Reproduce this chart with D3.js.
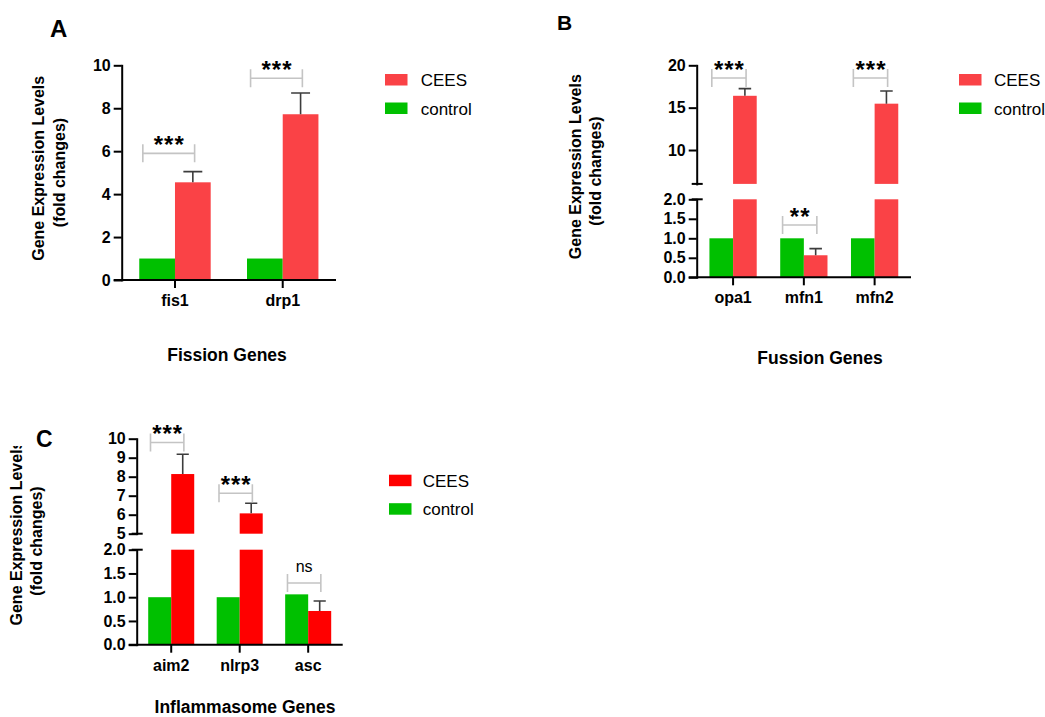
<!DOCTYPE html>
<html>
<head>
<meta charset="utf-8">
<script src="https://cdn.jsdelivr.net/npm/d3@7"></script>
<style>
  html, body { margin: 0; padding: 0; background: #fff; }
  svg { display: block; font-family: "Liberation Sans", Arial, sans-serif; }
</style>
</head>
<body>
<script>
// ---------------- DATA ----------------
const groups = ["control", "CEES"];

// Panel A – fission genes
const fissionGenes = ["fis1", "drp1"];
const fissionControl = [1.0, 1.0];
const fissionControlErr = [0, 0];
const fissionCEES = [4.55, 7.72];
const fissionCEESErr = [0.5, 0.99];
const fissionSig = ["***", "***"];
const fissionSigLevel = [5.9, 9.4];
const fissionTicks = [0, 2, 4, 6, 8, 10];

// Panel B – fusion genes
const fusionGenes = ["opa1", "mfn1", "mfn2"];
const fusionControl = [1.0, 1.0, 1.0];
const fusionControlErr = [0, 0, 0];
const fusionCEES = [16.4, 0.565, 15.47];
const fusionCEESErr = [0.85, 0.17, 1.5];
const fusionSig = ["***", "**", "***"];
const fusionSigLevel = [18.5, 1.34, 18.5];
const fusionTicksLow = [0, 0.5, 1.0, 1.5, 2.0];
const fusionTicksHigh = [10, 15, 20];
const fusionDomainLow = [0, 2];
const fusionDomainHigh = [6, 20];

// Panel C – inflammasome genes
const inflGenes = ["aim2", "nlrp3", "asc"];
const inflControl = [1.0, 1.0, 1.06];
const inflControlErr = [0, 0, 0];
const inflCEES = [8.14, 6.07, 0.71];
const inflCEESErr = [1.04, 0.53, 0.21];
const inflSig = ["***", "***", "ns"];
const inflSigLevel = [9.8, 7.13, 1.3];
const inflTicksLow = [0, 0.5, 1.0, 1.5, 2.0];
const inflTicksHigh = [5, 6, 7, 8, 9, 10];
const inflDomainLow = [0, 2];
const inflDomainHigh = [5, 10];

// ---------------- DRAW ----------------
const FONT = '"Liberation Sans", Arial, sans-serif';
const GREEN = "#00C000";
const svg = d3.select("body").append("svg").attr("width", 1045).attr("height", 717);

const defs = svg.append("defs");
defs.append("clipPath").attr("id", "clipC")
  .append("rect").attr("x", 0).attr("y", 446).attr("width", 70).attr("height", 271);

function drawPanel(p) {
  const g = svg.append("g");
  const x = d3.scaleBand().domain(p.genes).range([p.x0, p.x1])
    .paddingInner(p.pi).paddingOuter(p.po);
  const sub = d3.scaleBand().domain(groups).range([0, x.bandwidth()]);
  const segs = p.segments.map(s => Object.assign({}, s, {
    scale: d3.scaleLinear().domain(s.domain).range(s.range)
  }));
  const segFor = v => segs.find(s => v >= s.domain[0] && v <= s.domain[1]) || segs[segs.length - 1];
  const color = d3.scaleOrdinal().domain(groups).range([GREEN, p.red]);

  const rows = p.genes.flatMap((gene, i) => [
    { gene, grp: "control", v: p.control[i], e: p.controlErr[i] },
    { gene, grp: "CEES", v: p.cees[i], e: p.ceesErr[i] }
  ]);

  // bars (split across axis segments)
  const pieces = [];
  rows.forEach(r => segs.forEach(s => {
    if (r.v > s.domain[0]) pieces.push({ r, s, top: Math.min(r.v, s.domain[1]) });
  }));
  g.selectAll("rect.bar").data(pieces).join("rect").attr("class", "bar")
    .attr("x", d => x(d.r.gene) + sub(d.r.grp))
    .attr("width", sub.bandwidth())
    .attr("y", d => d.s.scale(d.top))
    .attr("height", d => d.s.scale(d.s.domain[0]) - d.s.scale(d.top))
    .attr("fill", d => color(d.r.grp));

  // error bars (upper half)
  const errs = rows.filter(r => r.e > 0);
  const capW = sub.bandwidth() * 0.53;
  g.selectAll("path.err").data(errs).join("path").attr("class", "err")
    .attr("d", r => {
      const s = segFor(r.v);
      const cx = x(r.gene) + sub(r.grp) + sub.bandwidth() / 2;
      const y0 = s.scale(r.v), y1 = s.scale(r.v + r.e);
      return `M${cx},${y0}V${y1}M${cx - capW / 2},${y1}H${cx + capW / 2}`;
    })
    .attr("fill", "none").attr("stroke", "#3c3c3c").attr("stroke-width", 1.6);

  // significance brackets
  const b = sub.bandwidth();
  p.genes.forEach((gene, i) => {
    const s = segFor(p.sigLevel[i]);
    const yb = s.scale(p.sigLevel[i]);
    const c = x(gene) + x.bandwidth() / 2;
    const l = c - 0.9 * b, rr = c + 0.55 * b;
    g.append("path")
      .attr("d", `M${l},${yb - 9}V${yb + 9}M${l},${yb}H${rr}M${rr},${yb - 9}V${yb + 9}`)
      .attr("fill", "none").attr("stroke", "#c4c4c4").attr("stroke-width", 1.6);
    const isNs = p.sig[i] === "ns";
    g.append("text")
      .attr("x", (l + rr) / 2 + (isNs ? 0 : 0.5))
      .attr("y", isNs ? yb - 10.5 : yb - 0.5)
      .attr("text-anchor", "middle")
      .attr("font-family", FONT)
      .attr("font-size", isNs ? 16 : 24)
      .attr("font-weight", isNs ? "normal" : "bold")
      .attr("letter-spacing", isNs ? 0 : 1)
      .attr("fill", "#000")
      .text(p.sig[i]);
  });

  // y axes
  segs.forEach(s => {
    const ax = g.append("g").attr("transform", `translate(${p.x0},0)`)
      .call(d3.axisLeft(s.scale).tickValues(s.ticks).tickSize(8).tickSizeOuter(0)
        .tickPadding(3).tickFormat(d3.format(s.fmt)));
    ax.select(".domain").attr("stroke", "#000").attr("stroke-width", 2).attr("stroke-linecap", "square");
    ax.selectAll(".tick line").attr("stroke", "#000").attr("stroke-width", 2);
    ax.selectAll(".tick text").attr("font-family", FONT).attr("font-size", 16)
      .attr("font-weight", "bold").attr("fill", "#000");
  });
  // break caps
  if (segs.length > 1) {
    const ends = [segs[0].range[1], segs[1].range[0]];
    ends.forEach(yv => g.append("line")
      .attr("x1", p.x0 - 5).attr("x2", p.x0 + 6).attr("y1", yv).attr("y2", yv)
      .attr("stroke", "#000").attr("stroke-width", 2));
  }

  // x axis
  const yBase = segs[0].range[0];
  g.append("line").attr("x1", p.x0 - 8).attr("x2", p.x1).attr("y1", yBase).attr("y2", yBase)
    .attr("stroke", "#000").attr("stroke-width", 2);
  const xa = g.append("g").attr("transform", `translate(0,${yBase})`)
    .call(d3.axisBottom(x).tickSize(8).tickSizeOuter(0).tickPadding(6.5));
  xa.select(".domain").remove();
  xa.selectAll(".tick line").attr("stroke", "#000").attr("stroke-width", 2);
  xa.selectAll(".tick text").attr("font-family", FONT).attr("font-size", 16)
    .attr("font-weight", "bold").attr("fill", "#000");

  // legend (CEES first)
  ["CEES", "control"].forEach((k, i) => {
    const yy = p.legY + i * 28.5;
    g.append("rect").attr("x", p.legX).attr("y", yy).attr("width", 22.5).attr("height", 11.5)
      .attr("fill", color(k));
    g.append("text").attr("x", p.legTextX).attr("y", yy + 12)
      .attr("font-family", FONT).attr("font-size", 17).attr("fill", "#000").text(k);
  });

  // panel label
  g.append("text").attr("x", p.labX).attr("y", p.labY)
    .attr("font-family", FONT).attr("font-size", p.labSize).attr("font-weight", "bold")
    .text(p.label);

  // y title
  const holder = p.clip ? g.append("g").attr("clip-path", `url(#${p.clip})`) : g;
  holder.append("text")
    .attr("transform", `translate(${p.t1x},${p.t1y}) rotate(-90)`)
    .attr("text-anchor", "middle").attr("dy", "0.35em")
    .attr("font-family", FONT).attr("font-size", 16).attr("font-weight", "bold")
    .text("Gene Expression Levels");
  g.append("text")
    .attr("transform", `translate(${p.t2x},${p.t2y}) rotate(-90)`)
    .attr("text-anchor", "middle").attr("dy", "0.35em")
    .attr("font-family", FONT).attr("font-size", 16).attr("font-weight", "bold")
    .text("(fold changes)");

  // x title
  g.append("text").attr("x", p.xtX).attr("y", p.xtY).attr("text-anchor", "middle")
    .attr("font-family", FONT).attr("font-size", 17.5).attr("font-weight", "bold")
    .text(p.xTitle);
}

drawPanel({
  genes: fissionGenes, control: fissionControl, controlErr: fissionControlErr,
  cees: fissionCEES, ceesErr: fissionCEESErr, sig: fissionSig, sigLevel: fissionSigLevel,
  red: "#FA4246",
  x0: 121.7, x1: 336, pi: 0.337, po: 0.163,
  segments: [{ domain: [0, 10], range: [280, 65.3], ticks: fissionTicks, fmt: "d" }],
  legX: 385, legY: 74, legTextX: 420.7,
  label: "A", labX: 50, labY: 37, labSize: 24,
  t1x: 38, t1y: 168.3, t2x: 59, t2y: 172.5,
  xTitle: "Fission Genes", xtX: 227, xtY: 360.5
});

drawPanel({
  genes: fusionGenes, control: fusionControl, controlErr: fusionControlErr,
  cees: fusionCEES, ceesErr: fusionCEESErr, sig: fusionSig, sigLevel: fusionSigLevel,
  red: "#FA4246",
  x0: 696.7, x1: 911, pi: 0.332, po: 0.18,
  segments: [
    { domain: fusionDomainLow, range: [277.3, 199.3], ticks: fusionTicksLow, fmt: ".1f" },
    { domain: fusionDomainHigh, range: [183.9, 65.3], ticks: fusionTicksHigh, fmt: "d" }
  ],
  legX: 959, legY: 74, legTextX: 994,
  label: "B", labX: 557, labY: 30, labSize: 21,
  t1x: 575, t1y: 166.7, t2x: 595, t2y: 171,
  xTitle: "Fussion Genes", xtX: 820, xtY: 363.8
});

drawPanel({
  genes: inflGenes, control: inflControl, controlErr: inflControlErr,
  cees: inflCEES, ceesErr: inflCEESErr, sig: inflSig, sigLevel: inflSigLevel,
  red: "#FF0000",
  x0: 136.7, x1: 342.7, pi: 0.328, po: 0.168,
  segments: [
    { domain: inflDomainLow, range: [644.7, 549.7], ticks: inflTicksLow, fmt: ".1f" },
    { domain: inflDomainHigh, range: [533.7, 438.7], ticks: inflTicksHigh, fmt: "d" }
  ],
  legX: 389, legY: 474.7, legTextX: 422.7,
  label: "C", labX: 36, labY: 446.7, labSize: 23,
  t1x: 16.7, t1y: 533, t2x: 36, t2y: 541, clip: "clipC",
  xTitle: "Inflammasome Genes", xtX: 245, xtY: 713
});
</script>
</body>
</html>
